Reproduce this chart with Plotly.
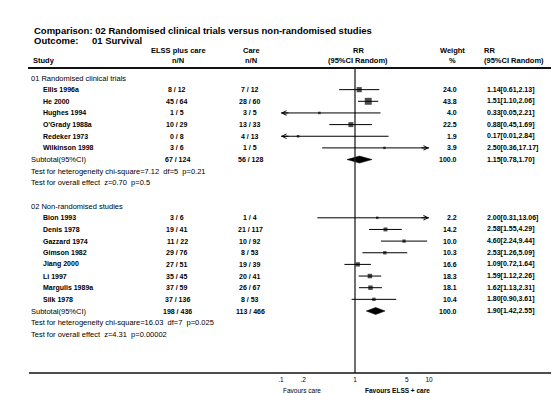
import math
import plotly.graph_objects as go

# ------------------------------------------------------------------ data
title_text = "Comparison: 02 Randomised clinical trials versus non-randomised studies"
outcome_label = "Outcome:"
outcome_text = "01 Survival"

group1_label = "01 Randomised clinical trials"
g1_studies = ["Ellis 1996a", "He 2000", "Hughes 1994", "O'Grady 1988a", "Redeker 1973", "Wilkinson 1998"]
g1_elss = ["8 / 12", "45 / 64", "1 / 5", "10 / 29", "0 / 8", "3 / 6"]
g1_care = ["7 / 12", "28 / 60", "3 / 5", "13 / 33", "4 / 13", "1 / 5"]
g1_weight = [24.0, 43.8, 4.0, 22.5, 1.9, 3.9]
g1_rr = [1.14, 1.51, 0.33, 0.88, 0.17, 2.50]
g1_lo = [0.61, 1.10, 0.05, 0.45, 0.01, 0.36]
g1_hi = [2.13, 2.06, 2.21, 1.69, 2.84, 17.17]
g1_sub_elss, g1_sub_care = "67 / 124", "56 / 128"
g1_sub_weight = 100.0
g1_sub_rr, g1_sub_lo, g1_sub_hi = 1.15, 0.78, 1.70
g1_het = "Test for heterogeneity chi-square=7.12  df=5  p=0.21"
g1_overall = "Test for overall effect  z=0.70  p=0.5"

group2_label = "02 Non-randomised studies"
g2_studies = ["Bion 1993", "Denis 1978", "Gazzard 1974", "Gimson 1982", "Jiang 2000",
              "Li 1997", "Margulis 1989a", "Silk 1978"]
g2_elss = ["3 / 6", "19 / 41", "11 / 22", "29 / 76", "27 / 51", "35 / 45", "37 / 59", "37 / 136"]
g2_care = ["1 / 4", "21 / 117", "10 / 92", "8 / 53", "19 / 39", "20 / 41", "26 / 67", "8 / 53"]
g2_weight = [2.2, 14.2, 10.0, 10.3, 16.6, 18.3, 18.1, 10.4]
g2_rr = [2.00, 2.58, 4.60, 2.53, 1.09, 1.59, 1.62, 1.80]
g2_lo = [0.31, 1.55, 2.24, 1.26, 0.72, 1.12, 1.13, 0.90]
g2_hi = [13.06, 4.29, 9.44, 5.09, 1.64, 2.26, 2.31, 3.61]
g2_sub_elss, g2_sub_care = "198 / 436", "113 / 466"
g2_sub_weight = 100.0
g2_sub_rr, g2_sub_lo, g2_sub_hi = 1.90, 1.42, 2.55
g2_het = "Test for heterogeneity chi-square=16.03  df=7  p=0.025"
g2_overall = "Test for overall effect  z=4.31  p=0.00002"

subtotal_label = "Subtotal(95%CI)"
tick_vals = [0.1, 0.2, 1, 5, 10]
tick_text = [".1", ".2", "1", "5", "10"]
favours_left = "Favours care"
favours_right = "Favours ELSS + care"
x_min, x_max = 0.1, 10

# ------------------------------------------------------------------ layout constants
W, H = 559, 393
ROW0, PITCH = 70.0, 11.65          # pixel y of first row, row pitch
X_ONE, DECADE = 347.0, 74.0        # pixel x of RR=1, pixels per decade
FONT = "Arial, Liberation Sans, sans-serif"
BODY = 7.5
ROWF = 7.0


def prow(py):
    return (py - ROW0) / PITCH


def px(x):
    return x / W


def nb(s):
    return s.replace("  ", "\u00a0\u00a0")


fig = go.Figure()
ann = []


def text(x, row, s, anchor="left", size=BODY, bold=False):
    ann.append(dict(x=px(x), y=row, xref="paper", yref="y", text=("<b>%s</b>" % nb(s)) if bold else nb(s),
                    showarrow=False, xanchor=anchor, yanchor="middle",
                    font=dict(family=FONT, size=size, color="black")))


# column x positions
C_LEFT, C_STUDY, C_ELSS, C_CARE, C_W, C_RR = 21, 33, 169, 242, 451, 477

# header
text(24, prow(22), title_text, bold=True, size=9.5)
text(24, prow(32), outcome_label, bold=True, size=9.5)
text(82, prow(32), outcome_text, bold=True, size=9.5)
text(C_ELSS + 1, prow(42), "ELSS plus care", "center", bold=True)
text(C_ELSS + 1, prow(52), "n/N", "center", bold=True)
text(C_CARE + 1, prow(42), "Care", "center", bold=True)
text(C_CARE + 1, prow(52), "n/N", "center", bold=True)
text(23, prow(52), "Study", bold=True)
text(350, prow(42), "RR", "center", bold=True)
text(350, prow(52), "(95%CI Random)", "center", bold=True)
text(444, prow(42), "Weight", "center", bold=True)
text(444, prow(52), "%", "center", bold=True)
text(474, prow(42), "RR", bold=True)
text(474, prow(52), "(95%CI Random)", bold=True)

groups = [
    (0, group1_label, g1_studies, g1_elss, g1_care, g1_weight, g1_rr, g1_lo, g1_hi,
     g1_sub_elss, g1_sub_care, g1_sub_weight, g1_sub_rr, g1_sub_lo, g1_sub_hi, g1_het, g1_overall),
    (11, group2_label, g2_studies, g2_elss, g2_care, g2_weight, g2_rr, g2_lo, g2_hi,
     g2_sub_elss, g2_sub_care, g2_sub_weight, g2_sub_rr, g2_sub_lo, g2_sub_hi, g2_het, g2_overall),
]

ci_x, ci_y, pt_x, pt_y, pt_s = [], [], [], [], []
for (r0, label, studies, elss, care, weight, rr, lo, hi,
     s_elss, s_care, s_w, s_rr, s_lo, s_hi, het, overall) in groups:
    text(C_LEFT, r0, label)
    for i, name in enumerate(studies):
        r = r0 + 1 + i
        text(C_STUDY, r, name, size=ROWF, bold=True)
        text(C_ELSS, r, elss[i], "center", size=ROWF, bold=True)
        text(C_CARE, r, care[i], "center", size=ROWF, bold=True)
        text(C_W, r, "%.1f" % weight[i], "right", size=ROWF, bold=True)
        text(C_RR, r, "%.2f[%.2f,%.2f]" % (rr[i], lo[i], hi[i]), size=ROWF, bold=True)
        l, h = max(lo[i], x_min), min(hi[i], x_max)
        ci_x += [l, h, None]
        ci_y += [r, r, None]
        pt_x.append(rr[i])
        pt_y.append(r)
        pt_s.append(max(2.5, 1.05 * math.sqrt(weight[i])))
        if lo[i] < x_min:
            ann.append(dict(x=math.log10(x_min), y=r, xref="x", yref="y", ax=9, ay=0, text="",
                            showarrow=True, arrowhead=5, arrowsize=0.9, arrowwidth=1, arrowcolor="black"))
        if hi[i] > x_max:
            ann.append(dict(x=math.log10(x_max), y=r, xref="x", yref="y", ax=-9, ay=0, text="",
                            showarrow=True, arrowhead=5, arrowsize=0.9, arrowwidth=1, arrowcolor="black"))
    rs = r0 + 1 + len(studies)
    text(C_LEFT, rs, subtotal_label)
    text(C_ELSS, rs, s_elss, "center", size=ROWF, bold=True)
    text(C_CARE, rs, s_care, "center", size=ROWF, bold=True)
    text(C_W, rs, "%.1f" % s_w, "right", size=ROWF, bold=True)
    text(C_RR, rs, "%.2f[%.2f,%.2f]" % (s_rr, s_lo, s_hi), size=ROWF, bold=True)
    text(C_LEFT, rs + 1, het)
    text(C_LEFT, rs + 2, overall)
    dh = 0.3
    fig.add_trace(go.Scatter(x=[s_lo, s_rr, s_hi, s_rr, s_lo], y=[rs, rs - dh, rs, rs + dh, rs],
                             mode="lines", fill="toself", fillcolor="black",
                             line=dict(color="black", width=0.5), hoverinfo="skip"))

AXIS_Y = 365
# vertical line of no effect
fig.add_trace(go.Scatter(x=[1, 1], y=[prow(60), prow(AXIS_Y)], mode="lines",
                         line=dict(color="#222", width=1.3), hoverinfo="skip"))
fig.add_trace(go.Scatter(x=ci_x, y=ci_y, mode="lines", line=dict(color="black", width=1),
                         hoverinfo="skip"))
fig.add_trace(go.Scatter(x=pt_x, y=pt_y, mode="markers",
                         marker=dict(symbol="square", size=pt_s, color="black", line=dict(width=0)),
                         hoverinfo="skip"))
# tick labels
fig.add_trace(go.Scatter(x=tick_vals, y=[prow(AXIS_Y + 7)] * len(tick_vals), mode="text",
                         text=tick_text, textposition="middle center",
                         textfont=dict(family=FONT, size=6.5, color="black"), hoverinfo="skip"))
text(315, prow(AXIS_Y + 17), favours_left, "right", size=6.5)
text(355, prow(AXIS_Y + 17), favours_right, "left", size=6.5, bold=True)

shapes = [
    dict(type="line", xref="paper", yref="y", x0=px(20), x1=px(545), y0=prow(60), y1=prow(60),
         line=dict(color="#111", width=2)),
    dict(type="line", xref="paper", yref="y", x0=px(21), x1=px(544), y0=prow(AXIS_Y), y1=prow(AXIS_Y),
         line=dict(color="#111", width=1.5)),
]

fig.update_layout(
    width=W, height=H, margin=dict(l=0, r=0, t=0, b=0),
    paper_bgcolor="white", plot_bgcolor="white", showlegend=False,
    xaxis=dict(type="log", range=[-X_ONE / DECADE, (W - X_ONE) / DECADE], domain=[0, 1],
               visible=False, fixedrange=True),
    yaxis=dict(range=[(H - ROW0) / PITCH, -ROW0 / PITCH], domain=[0, 1], visible=False, fixedrange=True),
    annotations=ann, shapes=shapes,
)
fig.write_html("out.html")
